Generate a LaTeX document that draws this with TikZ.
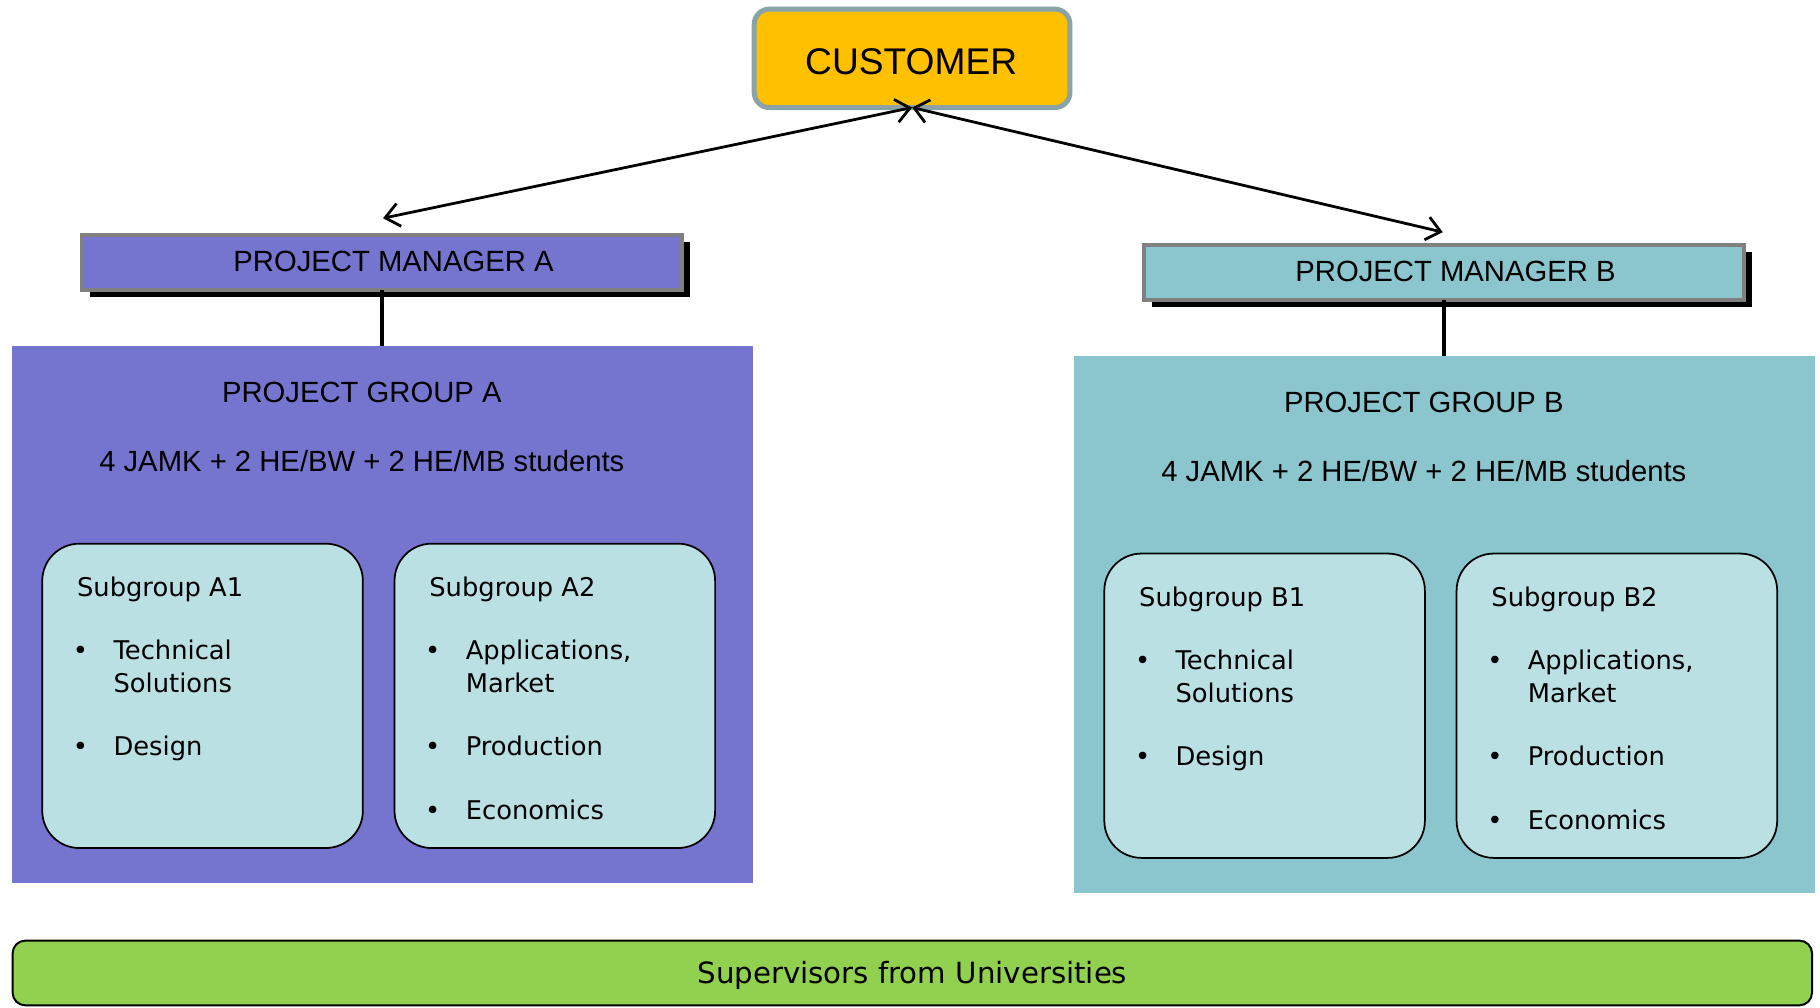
\documentclass[tikz,border=0pt]{standalone}
\usepackage{fontspec}
\setmainfont{Liberation Sans}
\newfontfamily\dvfont{DejaVu Sans}
\usetikzlibrary{calc,arrows.meta,shadows}
\definecolor{custfill}{HTML}{FFC000}
\definecolor{custline}{HTML}{8AA3A6}
\definecolor{purplefill}{HTML}{7575CF}
\definecolor{tealfill}{HTML}{8BC6CE}
\definecolor{subfill}{HTML}{BBE0E3}
\definecolor{greenfill}{HTML}{92D050}
\definecolor{pmline}{HTML}{808080}
\tikzset{
  custbox/.style={draw=custline, line width=2.15pt, fill=custfill, rounded corners=6.5pt,
    inner sep=0, outer sep=0, minimum width=136pt, minimum height=42.4pt},
  pmbox/.style={draw=pmline, line width=1.75pt, fill=#1, inner sep=0, outer sep=0,
    minimum width=258.25pt, minimum height=23.5pt,
    drop shadow={shadow xshift=3.5pt, shadow yshift=-3pt, fill=black, opacity=1}},
  grpbox/.style={fill=#1, draw=none, inner sep=0, outer sep=0,
    minimum width=319.5pt, minimum height=231.25pt},
  subbox/.style={draw=black, line width=0.75pt, fill=subfill, rounded corners=16pt,
    inner sep=0, outer sep=0, minimum width=138.1pt, minimum height=131.1pt},
  supbox/.style={draw=black, line width=0.85pt, fill=greenfill, rounded corners=5.5pt,
    inner sep=0, outer sep=0, minimum width=775.15pt, minimum height=27.9pt},
  arialtxt/.style={inner sep=0, font=\fontsize{12.6pt}{15pt}\selectfont},
  custtxt/.style={inner sep=0, font=\fontsize{16pt}{19pt}\selectfont},
  sgtxt/.style={inner sep=0, font=\dvfont\fontsize{11.1pt}{13pt}\selectfont},
  suptxt/.style={inner sep=0, font=\dvfont\fontsize{12.6pt}{15pt}\selectfont},
  link/.style={line width=1.7pt},
  twoway/.style={line width=1.2pt,
    {Straight Barb[length=6pt,width=10pt]}-{Straight Barb[length=6pt,width=10pt]}},
}
% text line helpers inside a subgroup box (offsets in pt from the box's north west corner)
\newcommand\sgtitle[3]{\node[sgtxt,anchor=base west,xshift=14.8pt,yshift=-22.8pt] (#1) at (#2.north west) {#3};}
\newcommand\sgline[4]{\node[sgtxt,anchor=base west,xshift=30.5pt,yshift=-#3] (#1) at (#2.north west) {#4};}
\newcommand\sgdot[3]{\node[sgtxt,anchor=base,xshift=16.5pt,yshift=-#3] (#1) at (#2.north west) {•};}
\newcommand\teamblock[4]{%
  \node[grpbox=#2] (g#1) at (329.5+#3, 529.75+#4) {};
  \node[pmbox=#2] (pm#1) at (329+#3, 226.25+#4) {};
  \node[arialtxt, anchor=base] (pm#1t) at (339+#3, 234+#4) {PROJECT MANAGER #1};
  \draw[link] (pm#1.south) -- (pm#1.south |- g#1.north);
  \node[arialtxt, anchor=base] (g#1t1) at (311.7+#3, 346.5+#4) {PROJECT GROUP #1};
  \node[arialtxt, anchor=base] (g#1t2) at (311.7+#3, 406.5+#4) {4 JAMK + 2 HE/BW + 2 HE/MB students};
  \node[subbox] (s#11) at (174.5+#3, 599.5+#4) {};
  \node[subbox] (s#12) at (478+#3, 599.5+#4) {};
  \sgtitle{s#11t}{s#11}{Subgroup #11}
  \sgdot{s#11d1}{s#11}{50pt}
  \sgline{s#11i1}{s#11}{50pt}{Technical}
  \sgline{s#11i1b}{s#11}{64pt}{Solutions}
  \sgdot{s#11d2}{s#11}{91.3pt}
  \sgline{s#11i2}{s#11}{91.3pt}{Design}
  \sgtitle{s#12t}{s#12}{Subgroup #12}
  \sgdot{s#12d1}{s#12}{50pt}
  \sgline{s#12i1}{s#12}{50pt}{Applications,}
  \sgline{s#12i1b}{s#12}{64pt}{Market}
  \sgdot{s#12d2}{s#12}{91.3pt}
  \sgline{s#12i2}{s#12}{91.3pt}{Production}
  \sgdot{s#12d3}{s#12}{118.8pt}
  \sgline{s#12i3}{s#12}{118.8pt}{Economics}
}
\begin{document}
\begin{tikzpicture}[x=0.5pt, y=-0.5pt]
  \useasboundingbox (0,0) rectangle (1568,868.4);
  % customer
  \node[custbox] (cust) at (785.8,50.25) {};
  \node[custtxt, anchor=base] (custt) at (785,63.8) {CUSTOMER};
  % teams
  \teamblock{A}{purplefill}{0}{0}
  \teamblock{B}{tealfill}{915}{8.5}
  % arrows between customer and managers
  \coordinate (tipA) at (330,188);
  \coordinate (tipB) at (1243,200);
  \draw[twoway] (cust.south) -- (tipA);
  \draw[twoway] (cust.south) -- (tipB);
  % supervisors
  \node[supbox] (sup) at (786,838.25) {};
  \node[suptxt, anchor=base] (supt) at (786,847) {Supervisors from Universities};
\end{tikzpicture}
\end{document}
